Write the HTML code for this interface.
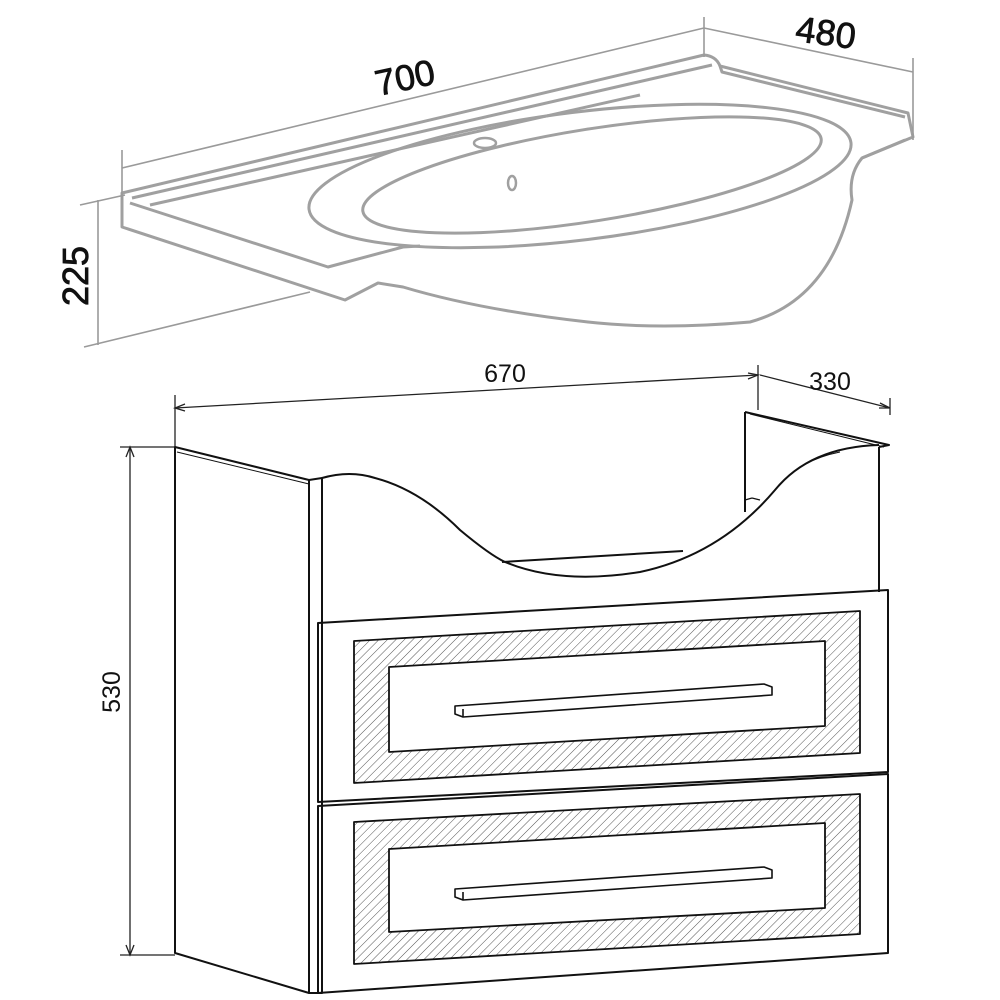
<!DOCTYPE html>
<html><head><meta charset="utf-8"><style>html,body{margin:0;padding:0;background:#fff}svg{display:block}</style></head>
<body>
<svg width="1000" height="1000" viewBox="0 0 1000 1000" xmlns="http://www.w3.org/2000/svg">
<defs>
<pattern id="h" width="6" height="6" patternUnits="userSpaceOnUse" patternTransform="rotate(45)">
<line x1="0" y1="0" x2="0" y2="6" stroke="#555" stroke-width="1"/>
</pattern>
</defs>
<rect width="1000" height="1000" fill="#fff"/>

<!-- SINK -->
<g fill="none" stroke="#a0a0a0" stroke-width="3" stroke-linejoin="round">
<path d="M122,193 L704,55 Q716,56 720,66 L908,113 L913,137 L862,158 Q848,175 852,200 Q830,300 750,322 Q660,330 588,322 Q480,310 403,287 L378,283 L345,300 L122,227 Z"/>
<path d="M130,203 L328,267 L403,247 L420,246"/>
<path d="M132,198 L712,65 M720,66 L722,72 L905,117 M862,158 L905,140"/>
<path d="M150,205 L640,95"/>
<ellipse cx="580" cy="176" rx="273" ry="64" transform="rotate(-7 580 176)"/>
<ellipse cx="592" cy="175" rx="232" ry="46" transform="rotate(-9 592 175)"/>
<ellipse cx="485" cy="143" rx="11" ry="5" stroke-width="2.5"/>
<ellipse cx="512" cy="183" rx="4" ry="7" stroke-width="2.5"/>
</g>
<g fill="none" stroke="#9a9a9a" stroke-width="1.6">
<line x1="122" y1="168" x2="704" y2="28"/>
<line x1="122" y1="150" x2="122" y2="200"/>
<line x1="704" y1="17" x2="704" y2="57"/>
<line x1="704" y1="28" x2="913" y2="72"/>
<line x1="913" y1="58" x2="913" y2="140"/>
<line x1="98" y1="200" x2="98" y2="345"/>
<line x1="80" y1="205" x2="125" y2="195"/>
<line x1="84" y1="347" x2="310" y2="292"/>
</g>
<g font-family="Liberation Sans, sans-serif" font-size="36" fill="#111" stroke="#111" stroke-width="0.8">
<text x="405" y="90" text-anchor="middle" transform="rotate(-12 405 78)">700</text>
<text x="826" y="45" text-anchor="middle" transform="rotate(8 826 32)">480</text>
<text x="76" y="288" text-anchor="middle" transform="rotate(-90 76 276)">225</text>
</g>

<!-- CABINET -->
<g fill="none" stroke="#222" stroke-width="1.3">
<line x1="175" y1="408" x2="758" y2="375"/>
<path d="M185,404 L175,408 L185,411"/>
<path d="M748,373 L758,375 L748,379"/>
<line x1="175" y1="395" x2="175" y2="447"/>
<line x1="758" y1="365" x2="758" y2="410"/>
<line x1="760" y1="375" x2="890" y2="408"/>
<path d="M880,403 L890,408 L879,408"/>
<line x1="890" y1="398" x2="890" y2="415"/>
<line x1="130" y1="447" x2="130" y2="955"/>
<line x1="120" y1="447" x2="175" y2="447"/>
<line x1="120" y1="955" x2="175" y2="955"/>
<path d="M126,457 L130,447 L134,457 M126,945 L130,955 L134,945"/>
</g>
<g font-family="Liberation Sans, sans-serif" font-size="25" fill="#111">
<text x="505" y="382" text-anchor="middle">670</text>
<text x="830" y="390" text-anchor="middle">330</text>
<text x="128" y="700" text-anchor="middle" transform="rotate(-90 120 700)">530</text>
</g>

<g fill="none" stroke="#111" stroke-width="2" stroke-linejoin="round">
<path d="M175,447 L309,480 L309,993 L175,953 Z"/>
<line x1="177" y1="452" x2="309" y2="484" stroke-width="1"/>
<path d="M309,480 L322,478 L322,993 L309,993"/>
<path d="M745,412 L889,445 L879,447"/>
<line x1="745" y1="412" x2="745" y2="512"/>
<line x1="879" y1="447" x2="879" y2="592"/>
<line x1="750" y1="414" x2="884" y2="447" stroke-width="1"/>
<path d="M322,478 Q350,470 375,478 Q420,490 460,530 Q490,555 505,562 Q560,585 640,572 Q720,555 775,490 Q810,447 879,445"/>
<path d="M779,486 Q800,460 840,452" stroke-width="1"/>
<line x1="502" y1="562" x2="683" y2="551"/>
<path d="M745,512 L745,500 L752,498 M752,498 L760,500" stroke-width="1.2"/>
<path d="M318,623 L888,590 L888,772 L318,802 Z"/>
<path d="M318,806 L888,774 L888,953 L318,993 Z"/>
</g>
<g stroke="#111" stroke-width="1.8" stroke-linejoin="round">
<path fill="url(#h)" fill-rule="evenodd" d="M354,641 L860,611 L860,753 L354,783 Z M389,667 L825,641 L825,726 L389,752 Z"/>
<path fill="url(#h)" fill-rule="evenodd" d="M354,822 L860,794 L860,934 L354,964 Z M389,849 L825,823 L825,908 L389,932 Z"/>
</g>
<g fill="#fff" stroke="#111" stroke-width="1.6" stroke-linejoin="round">
<path d="M455,706 L455,714 L463,717 L772,695 L772,687 L764,684 L455,706 Z"/>
<line x1="463" y1="709" x2="463" y2="717"/>
<path d="M455,889 L455,897 L463,900 L772,878 L772,870 L764,867 L455,889 Z"/>
<line x1="463" y1="892" x2="463" y2="900"/>
</g>
</svg>
</body></html>
